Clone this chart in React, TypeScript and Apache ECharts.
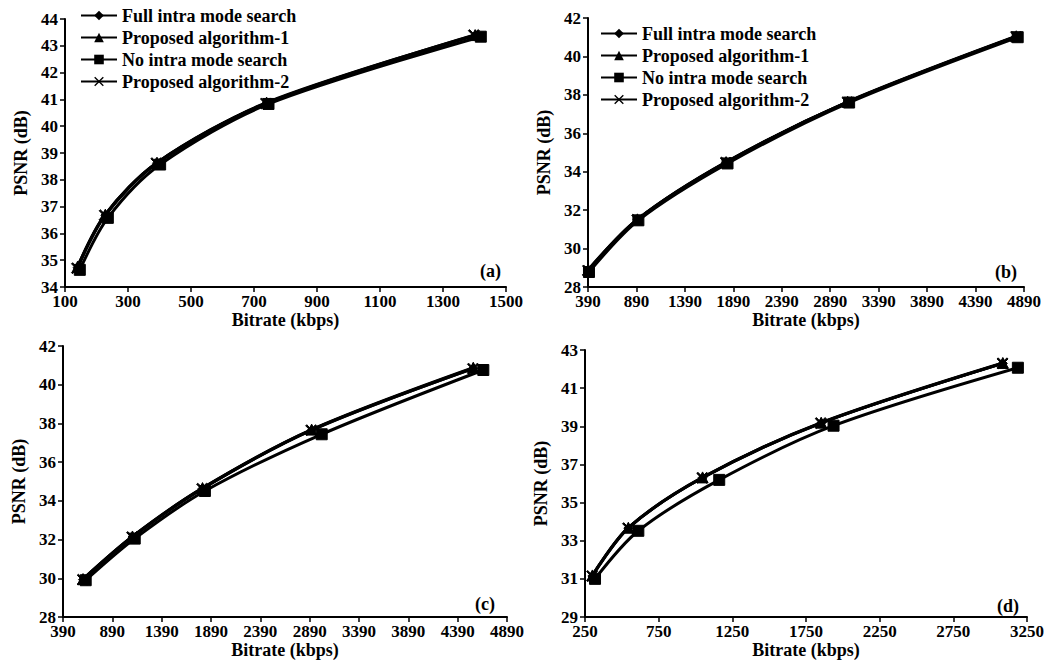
import React, { useEffect, useRef } from "react";
import * as echarts from "echarts";

const seriesNames = [
  "Full intra mode search",
  "Proposed algorithm-1",
  "No intra mode search",
  "Proposed algorithm-2",
];

// Panel (a)
const aFullX = [140, 228, 392, 740, 1402];
const aFullY = [34.72, 36.68, 38.62, 40.86, 43.38];
const aProp1X = [140, 228, 392, 740, 1402];
const aProp1Y = [34.76, 36.7, 38.64, 40.88, 43.4];
const aNoX = [147, 236, 402, 746, 1420];
const aNoY = [34.64, 36.58, 38.57, 40.83, 43.34];
const aProp2X = [138, 226, 390, 738, 1398];
const aProp2Y = [34.7, 36.68, 38.62, 40.85, 43.4];

// Panel (b)
const bFullX = [392, 900, 1815, 3070, 4810];
const bFullY = [28.85, 31.5, 34.47, 37.62, 41.03];
const bProp1X = [392, 900, 1815, 3070, 4810];
const bProp1Y = [28.9, 31.52, 34.5, 37.64, 41.05];
const bNoX = [400, 910, 1830, 3085, 4825];
const bNoY = [28.78, 31.47, 34.43, 37.6, 41.0];
const bProp2X = [390, 898, 1812, 3068, 4808];
const bProp2Y = [28.86, 31.5, 34.48, 37.62, 41.03];

// Panel (c)
const cFullX = [593, 1094, 1804, 2910, 4548];
const cFullY = [29.93, 32.13, 34.63, 37.65, 40.85];
const cProp1X = [593, 1094, 1804, 2910, 4548];
const cProp1Y = [29.96, 32.16, 34.66, 37.68, 40.88];
const cNoX = [620, 1117, 1828, 3012, 4650];
const cNoY = [29.9, 32.05, 34.51, 37.44, 40.76];
const cProp2X = [590, 1090, 1800, 2905, 4545];
const cProp2Y = [29.93, 32.13, 34.63, 37.65, 40.83];

// Panel (d)
const dFullX = [300, 544, 1048, 1853, 3086];
const dFullY = [31.15, 33.66, 36.3, 39.17, 42.3];
const dProp1X = [300, 544, 1048, 1853, 3086];
const dProp1Y = [31.18, 33.68, 36.32, 39.19, 42.32];
const dNoX = [318, 612, 1161, 1937, 3188];
const dNoY = [31.0, 33.52, 36.19, 39.03, 42.07];
const dProp2X = [298, 542, 1046, 1850, 3084];
const dProp2Y = [31.15, 33.66, 36.3, 39.17, 42.3];

const panelLabels = ["(a)", "(b)", "(c)", "(d)"];
const xName = "Bitrate (kbps)";
const yName = "PSNR (dB)";

const xRanges = [
  { min: 100, max: 1500, interval: 200 },
  { min: 390, max: 4890, interval: 500 },
  { min: 390, max: 4890, interval: 500 },
  { min: 250, max: 3250, interval: 500 },
];
const yRanges = [
  { min: 34, max: 44, interval: 1 },
  { min: 28, max: 42, interval: 2 },
  { min: 28, max: 42, interval: 2 },
  { min: 29, max: 43, interval: 2 },
];

const panels = [
  [
    [aFullX, aFullY],
    [aProp1X, aProp1Y],
    [aNoX, aNoY],
    [aProp2X, aProp2Y],
  ],
  [
    [bFullX, bFullY],
    [bProp1X, bProp1Y],
    [bNoX, bNoY],
    [bProp2X, bProp2Y],
  ],
  [
    [cFullX, cFullY],
    [cProp1X, cProp1Y],
    [cNoX, cNoY],
    [cProp2X, cProp2Y],
  ],
  [
    [dFullX, dFullY],
    [dProp1X, dProp1Y],
    [dNoX, dNoY],
    [dProp2X, dProp2Y],
  ],
];

const FONT = "'Liberation Serif', 'Times New Roman', serif";
const crossSymbol =
  "path://M1,0 L5,4 L9,0 L10,1 L6,5 L10,9 L9,10 L5,6 L1,10 L0,9 L4,5 L0,1 Z";
const symbols = ["diamond", "triangle", "rect", crossSymbol];
const symbolSizes = [9, 11, 11, 11];
const lineWidths = [3, 3, 3, 3];

export default function App() {
  const ref = useRef<HTMLDivElement>(null);

  useEffect(() => {
    if (!ref.current) return;
    const chart = echarts.init(ref.current, undefined, { renderer: "svg" });

    const grids = [
      { left: 65, top: 19, width: 441, height: 268 },
      { left: 588, top: 18, width: 436, height: 269 },
      { left: 63, top: 346, width: 444, height: 271 },
      { left: 585, top: 350, width: 442, height: 267 },
    ];
    const xNameGaps = [24, 24, 21, 21];

    const textBase = {
      fontFamily: FONT,
      fontWeight: "bold" as const,
      color: "#000",
    };

    const plain = (v: number) => String(v);

    const xAxis = xRanges.map((r, i) => ({
      type: "value",
      gridIndex: i,
      min: r.min,
      max: r.max,
      interval: r.interval,
      name: xName,
      nameLocation: "middle",
      nameGap: xNameGaps[i],
      nameTextStyle: { ...textBase, fontSize: 18 },
      axisLine: { show: true, onZero: false, lineStyle: { color: "#000", width: 2 } },
      axisTick: { show: true, length: 5, lineStyle: { color: "#000", width: 1.5 } },
      axisLabel: {
        ...textBase,
        fontSize: 17,
        margin: 6,
        showMaxLabel: true,
        showMinLabel: true,
        formatter: plain,
      },
      splitLine: { show: false },
    }));

    const yAxis = yRanges.map((r, i) => ({
      type: "value",
      gridIndex: i,
      min: r.min,
      max: r.max,
      interval: r.interval,
      name: yName,
      nameLocation: "middle",
      nameGap: 35,
      nameTextStyle: { ...textBase, fontSize: 18 },
      axisLine: { show: true, onZero: false, lineStyle: { color: "#000", width: 2 } },
      axisTick: { show: true, length: 5, lineStyle: { color: "#000", width: 1.5 } },
      axisLabel: {
        ...textBase,
        fontSize: 17,
        margin: 7,
        showMaxLabel: true,
        showMinLabel: true,
        formatter: plain,
      },
      splitLine: { show: false },
    }));

    const series: any[] = [];
    panels.forEach((panel, pi) => {
      panel.forEach(([xs, ys], si) => {
        series.push({
          type: "line",
          name: seriesNames[si],
          xAxisIndex: pi,
          yAxisIndex: pi,
          data: xs.map((x, k) => [x, ys[k]]),
          smooth: 0.3,
          symbol: symbols[si],
          symbolSize: symbolSizes[si],
          showAllSymbol: true,
          lineStyle: { color: "#000", width: lineWidths[si] },
          itemStyle: { color: "#000", borderColor: "#000" },
          z: 2 + si,
        });
      });
    });

    const legendBase = {
      orient: "vertical",
      itemWidth: 36,
      itemHeight: 12,
      itemGap: 3,
      padding: 0,
      selectedMode: false,
      data: seriesNames,
      textStyle: { ...textBase, fontSize: 18, lineHeight: 19 },
    };

    const labelPos = [
      { x: 480, y: 262 },
      { x: 995, y: 263 },
      { x: 475, y: 595 },
      { x: 997, y: 597 },
    ];

    chart.setOption({
      animation: false,
      backgroundColor: "#fff",
      grid: grids,
      xAxis,
      yAxis,
      legend: [
        { ...legendBase, left: 80, top: 6 },
        { ...legendBase, left: 600, top: 24 },
      ],
      graphic: panelLabels.map((t, i) => ({
        type: "text",
        left: labelPos[i].x,
        top: labelPos[i].y,
        style: { text: t, font: `bold 18px ${FONT}`, fill: "#000" },
      })),
      series,
    });

    return () => chart.dispose();
  }, []);

  return (
    <div
      ref={ref}
      style={{ position: "fixed", left: 0, top: 0, width: 1050, height: 671, background: "#fff" }}
    />
  );
}
